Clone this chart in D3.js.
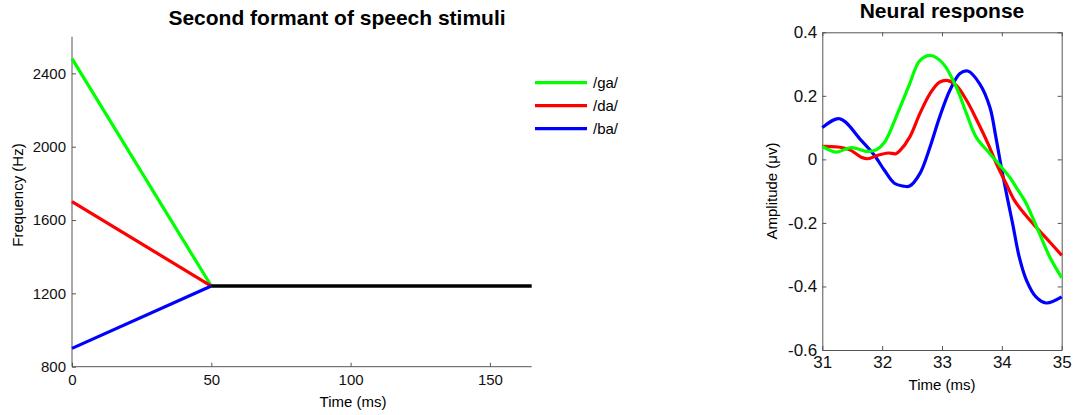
<!DOCTYPE html>
<html>
<head>
<meta charset="utf-8">
<script src="https://cdn.jsdelivr.net/npm/d3@7"></script>
<style>
  html, body { margin: 0; padding: 0; background: #fff; }
  svg { display: block; font-family: "Liberation Sans", Arial, sans-serif; }
  .axis path, .axis line { stroke: #555; }
  .axis text { font-size: 15px; fill: #111; }
  .axis.big text { font-size: 17px; }
</style>
</head>
<body>
<svg id="chart" width="1080" height="415"></svg>
<script>
// ---- Second formant (F2) transitions ----
const transitionTime = [0, 50];          // ms
const gaF2 = [2480, 1240];               // Hz
const daF2 = [1700, 1240];
const baF2 = [900, 1240];
const steadyTime = [50, 165];
const steadyF2 = [1240, 1240];
const formantLabels = ["/ga/", "/da/", "/ba/"];
const formantYTicks = [800, 1200, 1600, 2000, 2400];
const formantXTicks = [0, 50, 100, 150];

// ---- Neural response waveforms (time in ms, amplitude in µV) ----
const gaRespTime = [31, 31.23, 31.48, 31.76, 31.9, 32.04, 32.21, 32.3, 32.46, 32.63, 32.82, 33.02, 33.24, 33.41, 33.57, 33.8, 33.99, 34.13, 34.27, 34.38, 34.46, 34.63, 34.8, 35];
const gaResp = [0.041, 0.023, 0.037, 0.025, 0.03, 0.054, 0.123, 0.164, 0.238, 0.311, 0.327, 0.301, 0.227, 0.144, 0.07, 0.018, -0.024, -0.056, -0.097, -0.129, -0.16, -0.234, -0.307, -0.372];
const daRespTime = [31, 31.26, 31.46, 31.65, 31.76, 31.93, 32.1, 32.23, 32.3, 32.46, 32.63, 32.8, 32.96, 33.1, 33.24, 33.41, 33.57, 33.77, 33.91, 34.07, 34.21, 34.35, 34.57, 34.8, 35];
const daResp = [0.041, 0.039, 0.03, 0.007, 0.002, 0.013, 0.02, 0.018, 0.028, 0.07, 0.144, 0.207, 0.243, 0.248, 0.233, 0.186, 0.128, 0.049, -0.014, -0.076, -0.129, -0.165, -0.213, -0.26, -0.302];
const baRespTime = [31, 31.29, 31.65, 31.87, 32.04, 32.21, 32.35, 32.46, 32.63, 32.8, 32.96, 33.13, 33.3, 33.43, 33.63, 33.8, 33.9, 33.99, 34.1, 34.18, 34.29, 34.41, 34.57, 34.74, 35];
const baResp = [0.1, 0.128, 0.06, 0.013, -0.035, -0.076, -0.084, -0.084, -0.045, 0.039, 0.133, 0.217, 0.27, 0.278, 0.238, 0.164, 0.07, -0.024, -0.129, -0.202, -0.307, -0.38, -0.433, -0.452, -0.433];
const responseXTicks = [31, 32, 33, 34, 35];
const responseYTicks = [-0.6, -0.4, -0.2, 0, 0.2, 0.4];

const colors = { ga: "#00ff00", da: "#ff0000", ba: "#0000ff", steady: "#000000" };

const svg = d3.select("#chart");

// ================= Left panel: formant trajectories =================
const L = { left: 72, right: 531.7, top: 36.7, bottom: 366.7 };
const xF = d3.scaleLinear().domain([0, 165]).range([L.left, L.right]);
const yF = d3.scaleLinear().domain([800, 2600]).range([L.bottom, L.top]);

const gL = svg.append("g");

gL.append("g").attr("class", "axis")
  .attr("transform", `translate(0,${L.bottom})`)
  .call(d3.axisBottom(xF).tickValues(formantXTicks).tickSizeInner(-4).tickSizeOuter(0).tickPadding(8).tickFormat(d3.format("d")))
  .call(g => g.select(".domain").attr("d", `M${L.left},0H${L.right}`));

gL.append("g").attr("class", "axis")
  .attr("transform", `translate(${L.left},0)`)
  .call(d3.axisLeft(yF).tickValues(formantYTicks).tickSizeInner(-4).tickSizeOuter(0).tickPadding(6).tickFormat(d3.format("d")))
  .call(g => g.select(".domain").attr("d", `M0,${L.top}V${L.bottom}`));

const lineF = d3.line().x(d => xF(d[0])).y(d => yF(d[1]));
const formantSeries = [
  { key: "ga", t: transitionTime, v: gaF2 },
  { key: "da", t: transitionTime, v: daF2 },
  { key: "ba", t: transitionTime, v: baF2 }
];
formantSeries.forEach(s => {
  gL.append("path")
    .attr("d", lineF(s.t.map((t, i) => [t, s.v[i]])))
    .attr("fill", "none").attr("stroke", colors[s.key]).attr("stroke-width", 3.2);
});
gL.append("path")
  .attr("d", lineF(steadyTime.map((t, i) => [t, steadyF2[i]])))
  .attr("fill", "none").attr("stroke", colors.steady).attr("stroke-width", 3.6);

gL.append("text").attr("x", 337).attr("y", 25).attr("text-anchor", "middle")
  .attr("font-size", 21).attr("font-weight", "bold").text("Second formant of speech stimuli");
gL.append("text").attr("x", 353).attr("y", 407).attr("text-anchor", "middle")
  .attr("font-size", 15).text("Time (ms)");
gL.append("text").attr("transform", "translate(23,195) rotate(-90)").attr("text-anchor", "middle")
  .attr("font-size", 15).text("Frequency (Hz)");

// legend
const legend = gL.append("g");
["ga", "da", "ba"].forEach((k, i) => {
  const y = 82.7 + i * 23;
  legend.append("line").attr("x1", 535).attr("x2", 587).attr("y1", y).attr("y2", y)
    .attr("stroke", colors[k]).attr("stroke-width", 3.2);
  legend.append("text").attr("x", 593).attr("y", y + 5).attr("font-size", 15).text(formantLabels[i]);
});

// ================= Right panel: neural response =================
const R = { left: 822.3, right: 1061.7, top: 32.3, bottom: 350 };
const xR = d3.scaleLinear().domain([31, 35]).range([R.left, R.right]);
const yR = d3.scaleLinear().domain([-0.6, 0.4]).range([R.bottom, R.top]);
const gR = svg.append("g");

// plain hyphen for negative tick labels
const fmtR = d => d === 0 ? "0" : d3.format(".1f")(d).replace("\u2212", "-");
gR.append("g").attr("class", "axis big")
  .attr("transform", `translate(0,${R.bottom})`)
  .call(d3.axisBottom(xR).tickValues(responseXTicks).tickSizeInner(-4).tickSizeOuter(0).tickPadding(6).tickFormat(d3.format("d")));
gR.append("g").attr("class", "axis")
  .attr("transform", `translate(0,${R.top})`)
  .call(d3.axisTop(xR).tickValues(responseXTicks).tickSizeInner(-4).tickSizeOuter(0).tickFormat(""));
gR.append("g").attr("class", "axis big")
  .attr("transform", `translate(${R.left},0)`)
  .call(d3.axisLeft(yR).tickValues(responseYTicks).tickSizeInner(-4).tickSizeOuter(0).tickPadding(5).tickFormat(fmtR));
gR.append("g").attr("class", "axis")
  .attr("transform", `translate(${R.right},0)`)
  .call(d3.axisRight(yR).tickValues(responseYTicks).tickSizeInner(-4).tickSizeOuter(0).tickFormat(""));

const respSeries = [
  { key: "ba", t: baRespTime, v: baResp },
  { key: "da", t: daRespTime, v: daResp },
  { key: "ga", t: gaRespTime, v: gaResp }
];
const lineR = d3.line().x(d => xR(d[0])).y(d => yR(d[1])).curve(d3.curveCatmullRom.alpha(0.5));
respSeries.forEach(s => {
  gR.append("path")
    .attr("d", lineR(s.t.map((t, i) => [t, s.v[i]])))
    .attr("fill", "none").attr("stroke", colors[s.key]).attr("stroke-width", 3.2);
});

gR.append("text").attr("x", 942).attr("y", 18).attr("text-anchor", "middle")
  .attr("font-size", 21).attr("font-weight", "bold").text("Neural response");
gR.append("text").attr("x", 942).attr("y", 390).attr("text-anchor", "middle")
  .attr("font-size", 15).text("Time (ms)");
gR.append("text").attr("transform", "translate(777,191) rotate(-90)").attr("text-anchor", "middle")
  .attr("font-size", 15).text("Amplitude (μv)");
</script>
</body>
</html>
